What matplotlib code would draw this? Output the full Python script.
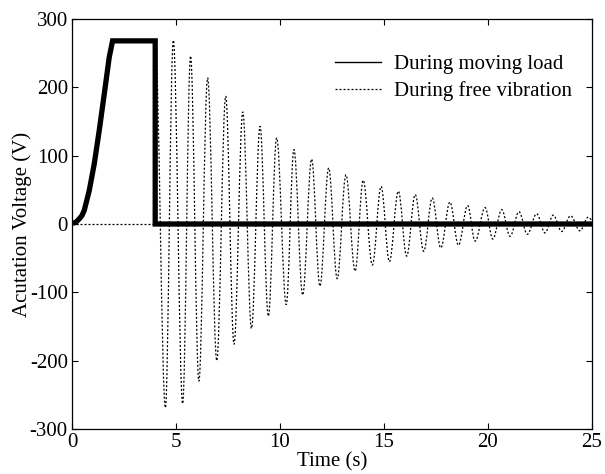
import matplotlib
matplotlib.use("Agg")
import matplotlib.pyplot as plt
from matplotlib.path import Path
from matplotlib.patches import PathPatch
from matplotlib.lines import Line2D

plt.rcParams['font.family'] = ['Liberation Serif', 'DejaVu Serif']
plt.rcParams['axes.unicode_minus'] = False

# ---- data ----
# actuation voltage while the load is moving (thick solid)
load_t = [0.0, 0.03, 0.19, 0.35, 0.48, 0.59, 0.83, 1.07, 1.31, 1.55, 1.79, 1.95,
          4.0, 4.0, 25.0]
load_v = [0.0, 1.0, 2.6, 7.6, 12.4, 20.0, 49.0, 88.0, 137.0, 190.0, 244.0, 268.0,
          268.0, 0.0, 0.0]

# free-vibration signal before release (dotted, zero)
pre_t = [0.0, 4.0]
pre_v = [0.0, 0.0]

# free-vibration extrema (time, voltage) (dotted)
free_t = [4.0, 4.49, 4.87, 5.32, 5.70, 6.10, 6.52, 6.96, 7.39, 7.79, 8.21,
          8.63, 9.04, 9.44, 9.84, 10.30, 10.67, 11.09, 11.52, 11.92, 12.34,
          12.75, 13.17, 13.61, 14.00, 14.44, 14.86, 15.26, 15.69, 16.09, 16.50,
          16.91, 17.32, 17.73, 18.17, 18.58, 19.02, 19.38, 19.86, 20.23, 20.66,
          21.06, 21.49, 21.89, 22.34, 22.74, 23.14, 23.54, 23.97, 24.42, 24.82,
          25.0]
free_v = [268, -269, 269, -263, 246, -230, 214, -200, 187, -176, 164,
          -153, 143, -135, 126, -118, 109, -104, 95, -91, 82,
          -80, 72, -69, 64, -60, 55, -55, 48, -47, 43,
          -40, 38, -35, 32, -31, 27, -25, 24, -22, 21,
          -18, 18, -15, 15, -13, 13, -11, 12, -10, 10,
          6]

labels = ['During moving load', 'During free vibration']
x_ticks = [0, 5, 10, 15, 20, 25]
y_ticks = [-300, -200, -100, 0, 100, 200, 300]

# ---- figure ----
W, H = 605, 474
fig = plt.figure(figsize=(W / 100, H / 100), dpi=100)
ax = fig.add_axes([72 / W, 45 / H, 520 / W, 410 / H])

dot_style = (0, (1.6, 1.6))
dot_lw = 0.9

# dotted free vibration: straight zero part + smooth curve through extrema
ax.plot(pre_t, pre_v, color='black', lw=dot_lw, linestyle=dot_style, zorder=2)
k = 0.3634
verts = [(free_t[0], free_v[0])]
codes = [Path.MOVETO]
for i in range(1, len(free_t)):
    t0, v0 = free_t[i - 1], free_v[i - 1]
    t1, v1 = free_t[i], free_v[i]
    dt = t1 - t0
    verts += [(t0 + k * dt, v0), (t1 - k * dt, v1), (t1, v1)]
    codes += [Path.CURVE4] * 3
patch = PathPatch(Path(verts, codes), fill=False, edgecolor='black',
                  lw=dot_lw, linestyle=dot_style, zorder=2, capstyle='butt')
ax.add_patch(patch)

# thick solid moving-load voltage
ax.plot(load_t, load_v, color='black', lw=3.8, zorder=3,
        solid_joinstyle='miter', solid_capstyle='butt')

ax.set_xlim(0, 25)
ax.set_ylim(-300, 300)
ax.set_xticks(x_ticks)
ax.set_yticks(y_ticks)
ax.tick_params(direction='in', length=4, width=0.8, top=True, right=True,
               labelsize=15, pad=3)
for s in ax.spines.values():
    s.set_linewidth(0.9)

ax.set_xlabel('Time (s)', fontsize=15, labelpad=0)
ax.set_ylabel('Acutation Voltage (V)', fontsize=15, labelpad=-2)

handles = [Line2D([], [], color='black', lw=1.0),
           Line2D([], [], color='black', lw=dot_lw, linestyle=dot_style)]
ax.legend(handles, labels, loc='upper right', frameon=False, fontsize=15,
          handlelength=2.2, handletextpad=0.6, labelspacing=0.35,
          bbox_to_anchor=(0.985, 0.944), borderaxespad=0.2)

fig.savefig('out.png', dpi=100)
